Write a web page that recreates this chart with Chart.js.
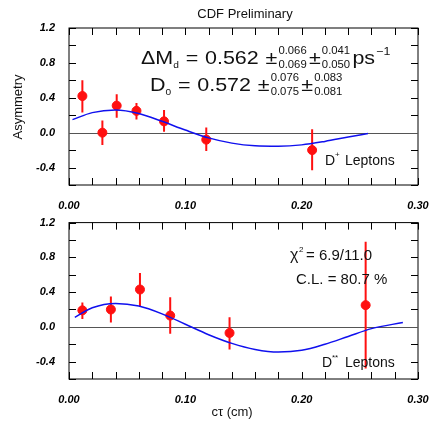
<!DOCTYPE html>
<html><head><meta charset="utf-8">
<script src="https://cdn.jsdelivr.net/npm/chart.js@4"></script>
<style>
body{margin:0;background:#fff;width:443px;height:426px;position:relative;overflow:hidden}
#t{position:absolute;left:0;top:0}
#b{position:absolute;left:0;top:210px}
</style></head><body>
<div id="t" style="width:443px;height:210px"><canvas id="c1"></canvas></div>
<div id="b" style="width:443px;height:216px"><canvas id="c2"></canvas></div>
<script>
// D+ leptons
const topX = [0.0115, 0.0287, 0.041, 0.058, 0.0817, 0.118, 0.209];
const topY = [0.42, 0.00, 0.31, 0.25, 0.13, -0.08, -0.20];
const topHi = [0.60, 0.14, 0.44, 0.34, 0.26, 0.06, 0.04];
const topLo = [0.23, -0.14, 0.17, 0.15, 0.01, -0.21, -0.43];
const topFitX = [0.003, 0.02, 0.04, 0.06, 0.08, 0.10, 0.12, 0.14, 0.16, 0.18, 0.20, 0.22, 0.24, 0.257];
const topFitY = [0.15, 0.23, 0.26, 0.22, 0.13, 0.03, -0.06, -0.12, -0.15, -0.155, -0.14, -0.10, -0.05, -0.01];
// D** leptons
const botX = [0.0115, 0.036, 0.061, 0.087, 0.138, 0.255];
const botY = [0.19, 0.20, 0.43, 0.13, -0.07, 0.25];
const botHi = [0.28, 0.35, 0.62, 0.34, 0.11, 0.98];
const botLo = [0.09, 0.05, 0.24, -0.08, -0.26, -0.48];
const botFitX = [0.005, 0.02, 0.04, 0.06, 0.08, 0.10, 0.12, 0.14, 0.16, 0.18, 0.20, 0.22, 0.24, 0.26, 0.287];
const botFitY = [0.11, 0.22, 0.27, 0.24, 0.15, 0.03, -0.09, -0.19, -0.26, -0.29, -0.27, -0.20, -0.11, -0.02, 0.05];
const yTicks = [-0.4, 0.0, 0.4, 0.8, 1.2];
const xTicks = [0.00, 0.10, 0.20, 0.30];

const tickFont = {family: 'Liberation Sans', size: 11, weight: 'bold', style: 'italic'};

const frame = {
  id: 'frame',
  beforeDatasetsDraw(chart) {
    const {ctx, chartArea: a, scales: {x, y}} = chart;
    ctx.save();
    ctx.strokeStyle = '#000'; ctx.lineWidth = 1;
    ctx.strokeRect(a.left, a.top, a.right - a.left, a.bottom - a.top);
    ctx.beginPath();
    for (let v = -0.6; v <= 1.21; v += 0.2) {
      const p = Math.round(y.getPixelForValue(v)) + 0.5;
      ctx.moveTo(a.left, p); ctx.lineTo(a.left + 7, p);
      ctx.moveTo(a.right, p); ctx.lineTo(a.right - 7, p);
    }
    for (let v = 0; v <= 0.301; v += 0.02) {
      const p = Math.round(x.getPixelForValue(v)) + 0.5;
      ctx.moveTo(p, a.bottom); ctx.lineTo(p, a.bottom - 7);
      ctx.moveTo(p, a.top); ctx.lineTo(p, a.top + 7);
    }
    ctx.stroke();
    ctx.strokeStyle = '#555';
    const z = Math.round(y.getPixelForValue(0)) + 0.5;
    ctx.beginPath(); ctx.moveTo(a.left, z); ctx.lineTo(a.right, z); ctx.stroke();
    // error bars
    const d = chart.config.options.errs;
    ctx.strokeStyle = '#ff1010'; ctx.lineWidth = 2;
    ctx.beginPath();
    d.x.forEach((xv, i) => {
      const px = x.getPixelForValue(xv);
      ctx.moveTo(px, y.getPixelForValue(d.hi[i]));
      ctx.lineTo(px, y.getPixelForValue(d.lo[i]));
    });
    ctx.stroke();
    ctx.restore();
  },
  afterDraw(chart) {
    const t = chart.config.options.texts;
    if (t) { chart.ctx.save(); t(chart.ctx); chart.ctx.restore(); }
  }
};

function txt(ctx, s, x, y, size) {
  ctx.font = size + 'px "Liberation Sans"';
  ctx.fillStyle = '#111';
  ctx.fillText(s, x, y);
}

// pieces: [text, size, dy, gapAfter] or [[up, down], size, gapAfter] for stacked limits
function line(ctx, pieces, x, y, sx) {
  ctx.save(); ctx.translate(x, y); ctx.scale(sx, 1);
  let cx = 0;
  pieces.forEach(p => {
    if (Array.isArray(p[0])) {
      txt(ctx, p[0][0], cx, -10, p[1]); txt(ctx, p[0][1], cx, 4, p[1]);
      ctx.font = p[1] + 'px "Liberation Sans"';
      cx += ctx.measureText(p[0][0]).width + p[2];
    } else {
      txt(ctx, p[0], cx, p[2], p[1]);
      ctx.font = p[1] + 'px "Liberation Sans"';
      cx += ctx.measureText(p[0]).width + p[3];
    }
  });
  ctx.restore();
}

function makeChart(id, fx, fy, px, py, hi, lo, pad, xh, texts) {
  return new Chart(document.getElementById(id), {
    type: 'scatter',
    data: {datasets: [
      {type: 'line', data: fx.map((v, i) => ({x: v, y: fy[i]})), borderColor: '#1010ee',
       borderWidth: 1.5, pointRadius: 0, cubicInterpolationMode: 'monotone', fill: false},
      {data: px.map((v, i) => ({x: v, y: py[i]})), backgroundColor: '#ff1010',
       borderColor: '#ff1010', pointRadius: 4.5}
    ]},
    options: {
      responsive: false, animation: false, devicePixelRatio: 1,
      errs: {x: px, hi: hi, lo: lo}, texts: texts,
      layout: {padding: {left: 0, right: 25, top: pad, bottom: 0}},
      plugins: {legend: {display: false}, tooltip: {enabled: false}},
      scales: {
        x: {min: 0, max: 0.3, grid: {display: false}, border: {display: false},
          afterBuildTicks: s => { s.ticks = xTicks.map(v => ({value: v})); },
          afterFit: s => { s.height = xh; },
          ticks: {color: '#000', font: tickFont, padding: 6, maxRotation: 0,
            callback: v => v.toFixed(2)}},
        y: {min: -0.6, max: 1.2, grid: {display: false}, border: {display: false},
          afterBuildTicks: s => { s.ticks = yTicks.map(v => ({value: v})); },
          afterFit: s => { s.width = 69; },
          ticks: {color: '#000', font: tickFont, padding: 6,
            callback: v => v.toFixed(1)}}
      }
    },
    plugins: [frame]
  });
}

document.getElementById('c1').width = 443; document.getElementById('c1').height = 210;
document.getElementById('c2').width = 443; document.getElementById('c2').height = 216;

makeChart('c1', topFitX, topFitY, topX, topY, topHi, topLo, 28, 25, ctx => {
  ctx.textAlign = 'center';
  txt(ctx, 'CDF Preliminary', 245, 18, 13);
  ctx.save(); ctx.translate(22, 107); ctx.rotate(-Math.PI / 2);
  txt(ctx, 'Asymmetry', 0, 0, 13); ctx.restore();
  ctx.textAlign = 'left';
  line(ctx, [['ΔM', 19, 0, 0], ['d', 9, 4, 6], ['=', 19, 0, 6], ['0.562', 19, 0, 6], ['±', 19, 0, 1],
    [['0.066', '0.069'], 10, 2], ['±', 19, 0, 1], [['0.041', '0.050'], 10, 2], ['ps', 19, 0, 1], ['−1', 11, -9, 0]],
    141, 64, 1.13);
  line(ctx, [['D', 19, 0, 0], ['0', 9, 4, 6], ['=', 19, 0, 6], ['0.572', 19, 0, 6], ['±', 19, 0, 1],
    [['0.076', '0.075'], 10, 2], ['±', 19, 0, 1], [['0.083', '0.081'], 10, 0]],
    150, 91, 1.13);
  txt(ctx, 'D', 325, 165, 14); txt(ctx, '+', 335, 157, 8);
  txt(ctx, 'Leptons', 345, 165, 14);
});

makeChart('c2', botFitX, botFitY, botX, botY, botHi, botLo, 11, 47, ctx => {
  ctx.textAlign = 'left';
  txt(ctx, 'χ', 290, 50, 16); txt(ctx, '2', 299, 42, 8);
  txt(ctx, '= 6.9/11.0', 306, 50, 15);
  txt(ctx, 'C.L. = 80.7 %', 296, 74, 15);
  txt(ctx, 'D', 322, 157, 14); txt(ctx, '**', 332, 150, 8);
  txt(ctx, 'Leptons', 345, 157, 14);
  ctx.textAlign = 'center';
  txt(ctx, 'cτ (cm)', 232, 206, 13);
});
</script>
</body></html>
